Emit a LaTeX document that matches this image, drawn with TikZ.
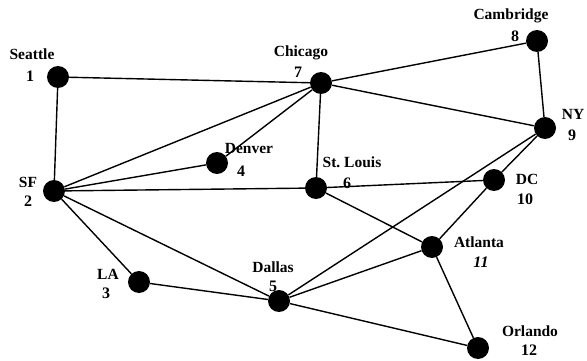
\documentclass[tikz,border=0pt]{standalone}
\usepackage{fontspec}
\setmainfont{Liberation Serif}
\begin{document}
\begin{tikzpicture}[x=1pt,y=-1pt,
  city/.style={circle,fill=black,minimum size=22pt,inner sep=0pt},
  lbl/.style={font=\fontsize{15.5}{15.5}\selectfont\bfseries,inner sep=0pt},
  num/.style={font=\fontsize{16}{16}\selectfont\bfseries,inner sep=0pt},
  road/.style={line width=1.4pt}]
\useasboundingbox (0,0) rectangle (587,361);
% cities
\node[city] (sea) at (58,77) {};
\node[city] (sf) at (54,191) {};
\node[city] (la) at (139,282) {};
\node[city] (den) at (217,163) {};
\node[city] (dal) at (279,301) {};
\node[city] (stl) at (316,188) {};
\node[city] (chi) at (321,83) {};
\node[city] (cam) at (537,41) {};
\node[city] (ny) at (545,128) {};
\node[city] (dc) at (494,180) {};
\node[city] (atl) at (432,247) {};
\node[city] (orl) at (478,348) {};
% roads
\draw[road] (sea) -- (chi);
\draw[road] (sea) -- (sf);
\draw[road] (chi) -- (cam);
\draw[road] (chi) -- (ny);
\draw[road] (chi) -- (den);
\draw[road] (chi) -- (sf);
\draw[road] (chi) -- (stl);
\draw[road] (cam) -- (ny);
\draw[road] (ny) -- (dc);
\draw[road] (ny) -- (dal);
\draw[road] (sf) -- (den);
\draw[road] (sf) -- (stl);
\draw[road] (stl) -- (dc);
\draw[road] (sf) -- (la);
\draw[road] (sf) -- (dal);
\draw[road] (la) -- (dal);
\draw[road] (dal) -- (orl);
\draw[road] (stl) -- (atl);
\draw[road] (atl) -- (dal);
\draw[road] (atl) -- (orl);
\draw[road] (atl) -- (dc);
% labels
\node[lbl] (tsea) at (32,54) {Seattle};
\node[num] (nsea) at (30,76) {1};
\node[lbl] (tchi) at (301,53) {Chicago};
\node[num] (nchi) at (298,72) {7};
\node[lbl] (tcam) at (511,16) {Cambridge};
\node[num] (ncam) at (515,36) {8};
\node[lbl] (tny) at (573,114) {NY};
\node[num] (nny) at (572,135) {9};
\node[lbl] (tsf) at (28,182) {SF};
\node[num] (nsf) at (28,201) {2};
\node[lbl] (tden) at (249,149) {Denver};
\node[num] (nden) at (241,171) {4};
\node[lbl] (tstl) at (352,162) {St.\ Louis};
\node[num] (nstl) at (347,183) {6};
\node[lbl] (tdc) at (527,179) {DC};
\node[num] (ndc) at (525,199) {10};
\node[lbl] (tatl) at (479,242) {Atlanta};
\node[num,font=\fontsize{16}{16}\selectfont\bfseries\itshape] (natl) at (481,262) {11};
\node[lbl] (tla) at (108,274) {LA};
\node[num] (nla) at (106,293) {3};
\node[lbl] (tdal) at (273,267) {Dallas};
\node[num] (ndal) at (273,286) {5};
\node[lbl] (torl) at (530,331) {Orlando};
\node[num] (norl) at (529,350) {12};
\end{tikzpicture}
\end{document}
